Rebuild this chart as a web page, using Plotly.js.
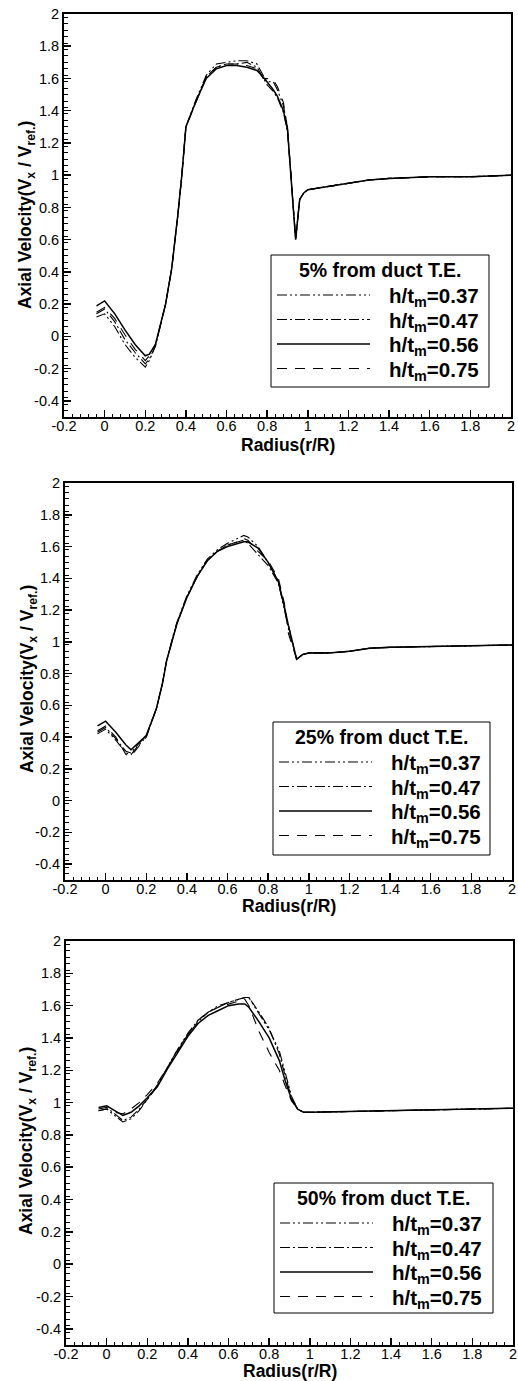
<!DOCTYPE html>
<html><head><meta charset="utf-8">
<script src="https://cdn.plot.ly/plotly-3.0.1.min.js"></script>
<style>html,body{margin:0;padding:0;background:#fff}#chart{width:518px;height:1381px}</style>
</head><body><div id="chart"></div>
<script>
// ---------- DATA ----------
const seriesNames = ['h/t<sub>m</sub>=0.37', 'h/t<sub>m</sub>=0.47', 'h/t<sub>m</sub>=0.56', 'h/t<sub>m</sub>=0.75'];
const panelTitles = ['5% from duct T.E.', '25% from duct T.E.', '50% from duct T.E.'];
const xAxisTitle = 'Radius(r/R)';
const yAxisTitle = 'Axial Velocity(V<sub>x</sub> / V<sub>ref.</sub>)';
const xTickVals = [-0.2, 0, 0.2, 0.4, 0.6, 0.8, 1, 1.2, 1.4, 1.6, 1.8, 2];
const xTickText = ['-0.2', '0', '0.2', '0.4', '0.6', '0.8', '1', '1.2', '1.4', '1.6', '1.8', '2'];
const yTickVals = [-0.4, -0.2, 0, 0.2, 0.4, 0.6, 0.8, 1, 1.2, 1.4, 1.6, 1.8, 2];
const yTickText = ['-0.4', '-0.2', '0', '0.2', '0.4', '0.6', '0.8', '1', '1.2', '1.4', '1.6', '1.8', '2'];

// Panel 1: 5% from duct T.E.
const radius5 = [-0.04, 0.0, 0.05, 0.10, 0.15, 0.20, 0.22, 0.25, 0.30, 0.33, 0.36, 0.38, 0.40, 0.45, 0.50, 0.55, 0.60, 0.65, 0.70, 0.75, 0.78, 0.80, 0.83, 0.85, 0.88, 0.90, 0.92, 0.94, 0.96, 0.98, 1.00, 1.10, 1.20, 1.30, 1.40, 1.60, 1.80, 2.00];
const vel5_037 = [0.12, 0.14, 0.06, -0.05, -0.13, -0.19, -0.15, -0.06, 0.20, 0.42, 0.75, 1.00, 1.30, 1.47, 1.62, 1.69, 1.70, 1.71, 1.71, 1.69, 1.62, 1.58, 1.58, 1.53, 1.43, 1.30, 0.95, 0.61, 0.85, 0.89, 0.91, 0.93, 0.95, 0.97, 0.98, 0.99, 0.99, 1.00];
const vel5_047 = [0.14, 0.17, 0.09, -0.02, -0.10, -0.17, -0.14, -0.06, 0.20, 0.42, 0.75, 1.00, 1.30, 1.46, 1.61, 1.67, 1.69, 1.69, 1.70, 1.67, 1.60, 1.56, 1.52, 1.48, 1.39, 1.27, 0.95, 0.60, 0.85, 0.89, 0.91, 0.93, 0.95, 0.97, 0.98, 0.99, 0.99, 1.00];
const vel5_056 = [0.19, 0.22, 0.14, 0.04, -0.05, -0.12, -0.11, -0.05, 0.20, 0.42, 0.75, 1.00, 1.30, 1.46, 1.60, 1.66, 1.68, 1.68, 1.67, 1.65, 1.61, 1.58, 1.53, 1.49, 1.40, 1.28, 0.95, 0.60, 0.85, 0.89, 0.91, 0.93, 0.95, 0.97, 0.98, 0.99, 0.99, 1.00];
const vel5_075 = [0.15, 0.18, 0.11, 0.01, -0.08, -0.15, -0.12, -0.05, 0.20, 0.42, 0.75, 1.00, 1.30, 1.46, 1.61, 1.67, 1.69, 1.69, 1.68, 1.66, 1.60, 1.60, 1.59, 1.55, 1.45, 1.29, 0.95, 0.60, 0.85, 0.89, 0.91, 0.93, 0.95, 0.97, 0.98, 0.99, 0.99, 1.00];

// Panel 2: 25% from duct T.E.
const radius25 = [-0.04, 0.0, 0.05, 0.10, 0.125, 0.15, 0.20, 0.25, 0.28, 0.30, 0.33, 0.35, 0.40, 0.45, 0.50, 0.55, 0.60, 0.65, 0.68, 0.70, 0.75, 0.80, 0.85, 0.88, 0.90, 0.94, 0.97, 1.00, 1.10, 1.20, 1.30, 1.40, 1.60, 1.80, 2.00];
const vel25_037 = [0.42, 0.45, 0.38, 0.30, 0.29, 0.33, 0.40, 0.58, 0.74, 0.88, 1.03, 1.12, 1.29, 1.42, 1.52, 1.58, 1.62, 1.65, 1.67, 1.66, 1.60, 1.50, 1.38, 1.20, 1.08, 0.89, 0.92, 0.93, 0.93, 0.94, 0.96, 0.965, 0.97, 0.975, 0.98];
const vel25_047 = [0.43, 0.46, 0.39, 0.31, 0.30, 0.34, 0.41, 0.58, 0.74, 0.88, 1.02, 1.11, 1.28, 1.41, 1.51, 1.57, 1.61, 1.63, 1.64, 1.62, 1.55, 1.48, 1.37, 1.21, 1.09, 0.89, 0.92, 0.93, 0.93, 0.94, 0.96, 0.965, 0.97, 0.975, 0.98];
const vel25_056 = [0.47, 0.50, 0.43, 0.35, 0.32, 0.35, 0.41, 0.58, 0.74, 0.88, 1.02, 1.11, 1.28, 1.41, 1.51, 1.57, 1.60, 1.62, 1.63, 1.63, 1.59, 1.50, 1.38, 1.22, 1.10, 0.89, 0.92, 0.93, 0.93, 0.94, 0.96, 0.965, 0.97, 0.975, 0.98];
const vel25_075 = [0.44, 0.47, 0.40, 0.29, 0.28, 0.32, 0.40, 0.58, 0.74, 0.88, 1.02, 1.11, 1.28, 1.41, 1.51, 1.57, 1.61, 1.63, 1.65, 1.64, 1.57, 1.51, 1.40, 1.24, 1.05, 0.89, 0.92, 0.93, 0.93, 0.94, 0.96, 0.965, 0.97, 0.975, 0.98];

// Panel 3: 50% from duct T.E.
const radius50 = [-0.04, 0.0, 0.04, 0.08, 0.12, 0.16, 0.20, 0.25, 0.30, 0.35, 0.40, 0.45, 0.50, 0.55, 0.60, 0.65, 0.68, 0.70, 0.75, 0.80, 0.85, 0.88, 0.91, 0.94, 0.97, 1.00, 1.20, 1.40, 1.60, 1.80, 2.00];
const vel50_037 = [0.95, 0.96, 0.92, 0.88, 0.90, 0.95, 1.02, 1.10, 1.22, 1.33, 1.43, 1.51, 1.56, 1.60, 1.62, 1.64, 1.65, 1.65, 1.55, 1.45, 1.32, 1.18, 1.04, 0.96, 0.94, 0.94, 0.945, 0.95, 0.955, 0.96, 0.965];
const vel50_047 = [0.96, 0.97, 0.93, 0.89, 0.91, 0.96, 1.02, 1.11, 1.22, 1.33, 1.42, 1.50, 1.56, 1.59, 1.62, 1.64, 1.65, 1.65, 1.56, 1.46, 1.30, 1.16, 1.03, 0.96, 0.94, 0.94, 0.945, 0.95, 0.955, 0.96, 0.965];
const vel50_056 = [0.97, 0.98, 0.95, 0.92, 0.94, 0.98, 1.03, 1.10, 1.21, 1.31, 1.41, 1.49, 1.54, 1.57, 1.60, 1.61, 1.61, 1.59, 1.50, 1.40, 1.26, 1.13, 1.02, 0.96, 0.94, 0.94, 0.945, 0.95, 0.955, 0.96, 0.965];
const vel50_075 = [0.95, 0.96, 0.94, 0.93, 0.96, 1.00, 1.05, 1.12, 1.22, 1.32, 1.42, 1.51, 1.56, 1.59, 1.61, 1.63, 1.64, 1.60, 1.44, 1.31, 1.20, 1.10, 1.01, 0.96, 0.94, 0.94, 0.945, 0.95, 0.955, 0.96, 0.965];

// ---------- STYLE / LAYOUT ----------
const W = 518, H = 1381;
const lineDash = ['10px,3px,2px,3px,2px,3px', '10px,3px,2px,3px', 'solid', '10px,8px'];
const lineWidth = [1.1, 1.1, 1.5, 1.1];
const panelPx = [
  {l: 64, r: 511, t: 14, b: 417, leg: [271, 255, 489, 387], xt: [288, 445], yt: [26, 215]},
  {l: 65, r: 512, t: 483, b: 880, leg: [273, 722, 490, 855], xt: [289, 906], yt: [28, 679]},
  {l: 66, r: 513, t: 941, b: 1345, leg: [274, 1183, 493, 1313], xt: [290, 1371], yt: [27, 1141]}
];
const panelData = [
  {r: radius5, v: [vel5_037, vel5_047, vel5_056, vel5_075]},
  {r: radius25, v: [vel25_037, vel25_047, vel25_056, vel25_075]},
  {r: radius50, v: [vel50_037, vel50_047, vel50_056, vel50_075]}
];
const fx = px => px / W;
const fy = py => 1 - py / H;

const traces = [];
const layout = {
  width: W, height: H,
  margin: {l: 0, r: 0, t: 0, b: 0},
  paper_bgcolor: '#fff', plot_bgcolor: '#fff',
  showlegend: false,
  font: {family: '"Liberation Sans", Arial, sans-serif', size: 14, color: '#000'},
  shapes: [], annotations: []
};

panelData.forEach((pd, p) => {
  const xa = p === 0 ? 'x' : 'x' + (p + 1);
  const ya = p === 0 ? 'y' : 'y' + (p + 1);
  pd.v.forEach((vals, s) => {
    traces.push({
      x: pd.r, y: vals, xaxis: xa, yaxis: ya, type: 'scatter', mode: 'lines',
      name: seriesNames[s].replace(/<[^>]+>/g, ''),
      line: {color: '#000', width: lineWidth[s], dash: lineDash[s]},
      hoverinfo: 'x+y'
    });
  });
  const g = panelPx[p];
  const axCommon = {
    ticks: 'inside', ticklen: 7, tickwidth: 1.5, tickcolor: '#000',
    showline: true, mirror: true, linewidth: 2, linecolor: '#000',
    showgrid: false, zeroline: false, tickmode: 'array',
    tickfont: {size: 14.5, color: '#000'}
  };
  layout['xaxis' + (p === 0 ? '' : p + 1)] = Object.assign({}, axCommon, {
    domain: [fx(g.l), fx(g.r)], anchor: ya, range: [-0.2, 2],
    tickvals: xTickVals, ticktext: xTickText, ticklabelstandoff: -5,
    minor: {tickmode: 'linear', tick0: -0.2, dtick: 0.04, ticks: 'inside', ticklen: 3.5, tickwidth: 1, tickcolor: '#000'}
  });
  layout['yaxis' + (p === 0 ? '' : p + 1)] = Object.assign({}, axCommon, {
    domain: [fy(g.b), fy(g.t)], anchor: xa, range: [-0.5, 2],
    tickvals: yTickVals, ticktext: yTickText,
    minor: {tickmode: 'linear', tick0: -0.5, dtick: 0.04, ticks: 'inside', ticklen: 3.5, tickwidth: 1, tickcolor: '#000'}
  });
  // axis titles
  layout.annotations.push({xref: 'paper', yref: 'paper', x: fx(g.xt[0]), y: fy(g.xt[1]), xanchor: 'center', yanchor: 'middle',
    text: '<b>' + xAxisTitle + '</b>', showarrow: false, font: {size: 17.5, color: '#000'}});
  layout.annotations.push({xref: 'paper', yref: 'paper', x: fx(g.yt[0]), y: fy(g.yt[1]), xanchor: 'center', yanchor: 'middle',
    textangle: -90, text: '<b>' + yAxisTitle + '</b>', showarrow: false, font: {size: 17.5, color: '#000'}});
  // legend box (drawn in paper coordinates)
  const [x0, y0, x1, y1] = g.leg;
  layout.shapes.push({type: 'rect', xref: 'paper', yref: 'paper', x0: fx(x0), x1: fx(x1), y0: fy(y0), y1: fy(y1),
    line: {color: '#000', width: 1}, fillcolor: '#fff', layer: 'above'});
  layout.annotations.push({xref: 'paper', yref: 'paper', x: fx((x0 + x1) / 2), y: fy(y0 + 15), xanchor: 'center', yanchor: 'middle',
    text: '<b>' + panelTitles[p] + '</b>', showarrow: false, font: {size: 19.5, color: '#000'}});
  seriesNames.forEach((nm, s) => {
    const ey = y0 + 40 + s * 24.5;
    layout.shapes.push({type: 'line', xref: 'paper', yref: 'paper', x0: fx(x0 + 6), x1: fx(x0 + 99), y0: fy(ey), y1: fy(ey),
      line: {color: '#000', width: lineWidth[s], dash: lineDash[s]}, layer: 'above'});
    layout.annotations.push({xref: 'paper', yref: 'paper', x: fx(x0 + 116), y: fy(ey + 2), xanchor: 'left', yanchor: 'middle',
      text: '<b>' + nm + '</b>', showarrow: false, font: {size: 20.5, color: '#000'}});
  });
});

Plotly.newPlot('chart', traces, layout, {displayModeBar: false, staticPlot: true});
</script>
</body></html>
